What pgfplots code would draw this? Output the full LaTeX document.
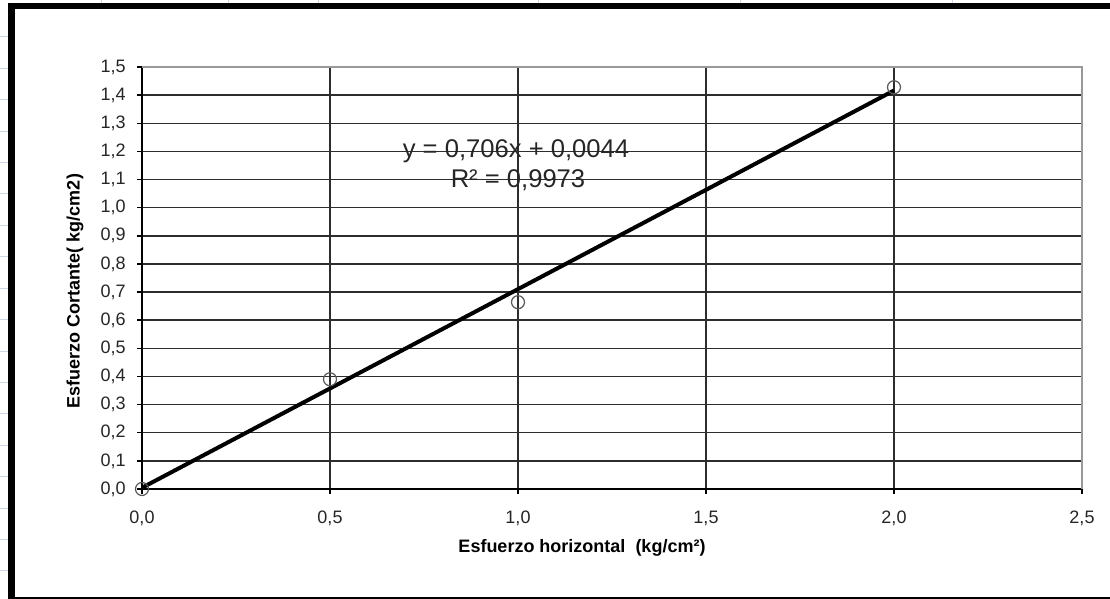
\documentclass[border=0pt]{standalone}
\usepackage{fontspec}
\setmainfont{Liberation Sans}
\usepackage{pgfplots}
\pgfplotsset{compat=1.18}
\definecolor{sheetline}{RGB}{205,212,228}
\definecolor{gridc}{RGB}{45,45,45}
\begin{document}
\begin{tikzpicture}
\useasboundingbox (0,0) rectangle (555pt,-299.5pt);
\clip (0,0) rectangle (555pt,-299.5pt);
\fill[white] (0,0) rectangle (555pt,-299.5pt);
\begin{scope}[x=0.5pt,y=-0.5pt]
\foreach \k in {0,...,17} \draw[sheetline, line width=0.5pt] (0,{37+31.4*\k}) -- (9,{37+31.4*\k});
\foreach \xx in {101,228,318,538,740,952} \draw[sheetline, line width=0.5pt] (\xx,0) -- (\xx,4);
\draw[line width=3.25pt] (11.5,6) rectangle (1125,600);
\end{scope}
\begin{axis}[
  at={(71pt,-244.5pt)}, anchor=south west,
  scale only axis, width=470pt, height=211pt,
  xmin=0, xmax=2.5, ymin=0, ymax=1.5,
  xtick={0,0.5,1,1.5,2,2.5},
  ytick={0,0.1,0.2,0.3,0.4,0.5,0.6,0.7,0.8,0.9,1.0,1.1,1.2,1.3,1.4,1.5},
  grid=major,
  major grid style={gridc, line width=0.75pt},
  axis x line*=bottom, axis y line*=left,
  axis line style={black, line width=0.75pt},
  tick style={black, line width=0.75pt},
  tick align=outside, major tick length=2.5pt,
  clip=false,
  /pgf/number format/.cd, use comma, fixed, fixed zerofill, precision=1, assume math mode=true,
  /pgfplots/.cd,
  tick label style={font=\fontsize{9}{10}\selectfont, text=black!85},
  yticklabel style={inner sep=0pt, anchor=east, xshift=-5.5pt},
  xticklabel style={inner sep=0pt, anchor=north, yshift=-8.5pt},
]
\draw[black!40, line width=0.75pt] (rel axis cs:0,1) -- (rel axis cs:1,1) -- (rel axis cs:1,0);
\addplot[only marks, mark=o, mark size=3.25pt, mark options={draw=black!65, line width=0.6pt}]
  coordinates {(0,0) (0.5,0.39) (1,0.664) (2,1.428)};
\addplot[black, line width=2pt, no marks] coordinates {(0,0.0044) (2,1.4164)};
\end{axis}
\node[font=\fontsize{9}{10}\selectfont\bfseries, rotate=90, inner sep=0pt] at (37.5pt,-145.5pt) {Esfuerzo Cortante( kg/cm2)};
\node[font=\fontsize{9}{10}\selectfont\bfseries, inner sep=0pt] at (291pt,-274pt) {Esfuerzo horizontal\ \ (kg/cm²)};
\node[font=\fontsize{12.8}{14}\selectfont, inner sep=0pt, text=black!85] at (258pt,-75.5pt) {y = 0,706x + 0,0044};
\node[font=\fontsize{12.8}{14}\selectfont, inner sep=0pt, text=black!85] at (259pt,-90pt) {R² = 0,9973};
\end{tikzpicture}
\end{document}
